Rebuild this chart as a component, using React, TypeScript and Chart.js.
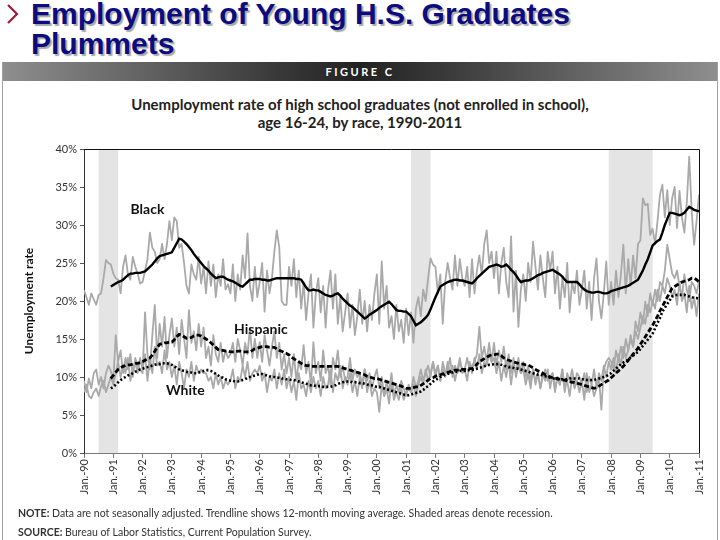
import React, { useEffect, useRef } from "react";
import { Chart, registerables } from "chart.js";

Chart.register(...registerables);

// x-axis tick labels, one per January (month index = 12 * i)
const xTickLabels = [
  "Jan.-90", "Jan.-91", "Jan.-92", "Jan.-93", "Jan.-94", "Jan.-95", "Jan.-96",
  "Jan.-97", "Jan.-98", "Jan.-99", "Jan.-00", "Jan.-01", "Jan.-02", "Jan.-03",
  "Jan.-04", "Jan.-05", "Jan.-06", "Jan.-07", "Jan.-08", "Jan.-09", "Jan.-10", "Jan.-11",
];

// Monthly unemployment rate (%), Jan-1990 .. Jan-2011 (one row per year)
const blackRaw = [
  21.4, 20.5, 19.5, 21.0, 20.2, 19.5, 20.8, 21.0, 23.0, 25.4, 25.0, 24.8,
  23.6, 23.0, 22.8, 21.0, 24.5, 26.0, 23.5, 22.8, 25.8, 24.5, 23.6, 22.3,
  22.5, 24.0, 25.5, 29.0, 27.0, 26.5, 25.0, 25.5, 27.5, 25.5, 27.5, 30.5,
  28.0, 31.0, 30.5, 27.0, 27.5, 25.0, 22.0, 21.0, 24.8, 23.5, 22.8, 25.8,
  22.3, 24.5, 21.0, 25.2, 22.0, 24.8, 20.5, 23.5, 22.0, 25.5, 21.5, 22.2,
  21.0, 24.8, 20.0, 23.5, 21.5, 26.0, 23.0, 28.9, 22.0, 20.0, 24.5, 20.5,
  22.5, 25.0, 18.6, 24.0, 21.0, 23.0, 26.5, 29.3, 27.1, 20.0, 19.5, 19.5,
  24.5, 22.0, 25.5, 20.5, 24.0, 19.0, 22.5, 17.5, 21.0, 23.5, 16.5, 21.0,
  23.0, 18.5, 22.0, 16.5, 21.5, 24.0, 19.0, 23.5, 17.0, 20.5, 16.0, 18.5,
  21.0, 16.5, 19.5, 15.5, 18.0, 21.5, 17.0, 20.0, 16.0, 19.5, 17.5, 21.0,
  23.5, 17.0, 25.2, 19.0, 22.0, 16.5, 18.0, 15.0, 19.5, 16.0, 17.5, 14.5,
  19.0, 15.5, 18.5, 14.5, 19.0, 20.5, 18.0, 21.5, 20.0, 23.0, 25.6, 24.8,
  24.5, 21.0, 23.5, 17.0, 22.5, 25.0, 23.0, 21.5, 26.0, 22.0, 25.5, 23.0,
  22.0, 24.5, 20.5, 25.5, 21.0, 24.0, 26.0, 23.5, 27.5, 29.3, 25.0, 26.5,
  23.0, 26.5, 21.0, 25.0, 27.0, 22.5, 20.5, 28.5, 18.6, 24.0, 16.6, 21.5,
  23.5, 20.0, 25.0, 22.5, 27.8, 24.5, 21.5, 26.0, 23.0, 20.5, 26.5, 24.0,
  26.5, 21.0, 24.5, 19.0, 23.0, 20.5, 25.0, 18.5, 22.5, 21.0, 24.0, 19.5,
  21.5, 24.0, 19.0, 22.5, 17.5, 23.0, 25.6, 20.0, 17.7, 21.0, 25.2, 19.5,
  22.5, 19.5, 24.0, 20.5, 23.5, 27.4, 21.0, 25.5, 22.0, 26.0, 23.0, 27.5,
  28.0, 33.5, 32.6, 32.8, 28.7, 29.5, 27.5, 30.5, 34.0, 35.3, 31.0, 34.6,
  30.0, 33.5, 35.0, 29.6, 34.5, 31.0, 29.0, 33.0, 39.0, 31.8, 27.4, 30.5,
  34.0,
];

const hispanicRaw = [
  9.5, 8.0, 9.8, 8.5, 10.5, 11.0, 9.0, 10.0, 8.5, 10.5, 11.5, 10.8,
  9.5, 15.5, 12.0, 13.5, 10.5, 12.5, 11.0, 13.0, 10.0, 12.5, 11.5, 11.0,
  10.5, 18.5, 13.0, 11.0, 15.5, 19.5, 12.5, 17.0, 14.0, 17.9, 12.5, 15.5,
  17.7, 14.0, 16.5, 13.0, 17.5, 15.0, 12.5, 18.8, 14.5, 16.0, 13.5, 17.0,
  14.0, 16.5, 12.5, 14.0, 11.5, 15.5, 13.0, 12.0, 14.5, 12.0, 13.5, 12.5,
  13.0, 14.5, 12.0, 15.0, 13.5, 11.5, 14.5, 13.0, 16.5, 12.5, 15.0, 12.5,
  14.6, 12.0, 15.5, 13.5, 11.5, 14.0, 16.0, 12.5, 14.5, 11.0, 13.0, 10.5,
  12.5, 10.0, 13.0, 9.5, 12.0, 11.0, 14.2, 10.5, 12.0, 9.0, 14.6, 10.5,
  12.0, 9.5, 13.5, 10.5, 11.5, 9.0, 12.5, 11.0, 13.5, 10.0, 11.5, 9.5,
  10.0, 12.5, 9.5, 11.0, 10.0, 10.5, 9.0, 11.0, 9.5, 10.5, 8.5, 10.0,
  11.0, 8.5, 10.0, 7.5, 9.5, 8.0, 10.5, 7.5, 9.0, 8.0, 9.5, 8.5,
  7.5, 9.0, 8.0, 10.0, 8.5, 9.5, 11.0, 9.5, 10.5, 11.5, 10.0, 12.0,
  10.5, 11.5, 9.5, 12.0, 10.5, 11.0, 12.5, 10.0, 11.5, 10.5, 12.0, 11.0,
  11.0, 12.5, 11.0, 11.5, 12.0, 13.0, 16.6, 12.5, 14.0, 12.0, 14.5, 12.0,
  14.5, 11.5, 13.5, 12.0, 14.0, 11.0, 13.0, 10.5, 12.5, 10.0, 11.5, 10.5,
  12.0, 10.0, 11.5, 9.5, 11.0, 9.0, 10.5, 8.5, 10.5, 9.5, 11.0, 8.5,
  10.5, 8.0, 10.0, 9.0, 11.0, 8.5, 9.5, 7.5, 10.0, 8.5, 9.5, 8.0,
  9.5, 7.0, 10.5, 8.0, 9.0, 7.5, 8.5, 10.0, 5.7, 11.0, 12.0, 12.5,
  12.0, 11.0, 13.5, 12.0, 14.0, 12.5, 15.0, 13.5, 15.5, 14.0, 17.3, 16.0,
  18.5, 17.0, 19.9, 18.0, 21.0, 19.5, 21.5, 20.0, 22.5, 22.0, 24.0, 27.4,
  25.5, 23.6, 23.0, 24.0, 22.0, 20.4, 23.5, 21.5, 20.0, 22.5, 22.0, 21.0,
  22.5,
];

const whiteRaw = [
  8.0, 9.0, 7.5, 7.2, 8.0, 8.5, 7.5, 8.8, 9.5, 8.0, 9.0, 10.0,
  9.0, 10.5, 12.0, 10.0, 11.5, 10.5, 12.5, 9.5, 11.0, 12.0, 10.5, 12.5,
  11.0, 13.0, 9.5, 12.5, 10.5, 14.0, 11.5, 12.0, 10.5, 13.5, 11.0, 12.0,
  10.0, 11.5, 9.0, 12.0, 10.5, 8.5, 11.0, 10.0, 12.0, 9.5, 11.5, 10.5,
  11.0, 10.5, 10.5, 9.5, 10.0, 8.5, 10.5, 9.0, 10.0, 8.5, 9.5, 9.0,
  9.5, 11.0, 8.5, 10.0, 9.5, 11.5, 10.0, 12.0, 9.5, 10.5, 11.0, 10.5,
  11.5, 9.5, 10.5, 8.0, 10.0, 9.5, 11.0, 8.5, 10.5, 9.0, 11.0, 8.5,
  10.0, 8.0, 9.5, 7.0, 10.5, 8.5, 9.0, 7.5, 9.5, 8.0, 10.0, 8.5,
  9.5, 7.5, 10.0, 8.5, 9.0, 11.0, 8.0, 10.5, 9.5, 11.5, 8.5, 10.0,
  9.0, 10.5, 8.0, 9.5, 7.5, 10.0, 8.5, 11.0, 8.0, 9.5, 7.5, 8.5,
  8.0, 5.4, 9.0, 7.5, 8.5, 6.5, 9.5, 7.0, 8.0, 7.0, 8.5, 7.0,
  8.0, 8.5, 8.0, 9.0, 7.5, 9.0, 10.0, 9.0, 11.0, 9.5, 10.5, 12.0,
  10.0, 11.5, 9.5, 11.0, 10.0, 12.0, 10.5, 11.5, 9.5, 11.0, 12.5, 10.5,
  11.0, 9.5, 12.0, 10.5, 12.5, 11.0, 13.0, 10.5, 12.0, 11.5, 13.0, 12.0,
  12.5, 10.5, 12.0, 9.5, 11.5, 10.0, 12.0, 9.0, 11.5, 10.5, 12.5, 10.5,
  11.0, 9.0, 10.5, 8.5, 11.0, 9.5, 10.5, 8.5, 10.0, 11.0, 9.5, 10.0,
  10.5, 8.5, 10.0, 9.0, 11.0, 8.0, 10.5, 9.5, 11.0, 9.0, 10.5, 10.0,
  9.0, 10.5, 8.0, 10.0, 9.0, 11.0, 8.5, 10.5, 9.5, 11.5, 10.0, 12.0,
  11.0, 12.5, 10.5, 13.0, 11.5, 14.0, 12.5, 13.5, 15.0, 14.0, 16.0, 15.0,
  16.5, 18.0, 17.0, 19.5, 18.5, 20.0, 19.0, 21.5, 20.0, 22.0, 21.0, 23.0,
  22.0, 20.5, 21.5, 19.5, 22.5, 20.0, 21.0, 18.5, 22.0, 19.0, 20.5, 18.0,
  21.0,
];

// 12-month moving-average trendlines, Dec-1990 .. Jan-2011
const MA_START = 11; // month index of Dec-1990
const blackTrend = [
  21.9,
  22.1, 22.3, 22.5, 22.6, 22.8, 23.1, 23.4, 23.6, 23.6, 23.7, 23.7, 23.7,
  23.8, 23.9, 24.2, 24.5, 24.8, 25.2, 25.6, 25.9, 26.0, 26.1, 26.2, 26.3,
  26.4, 27.0, 27.6, 28.2, 28.1, 27.8, 27.5, 27.1, 26.7, 26.2, 25.8, 25.4,
  25.0, 24.6, 24.3, 24.0, 23.6, 23.3, 23.0, 23.1, 23.2, 23.2, 23.0, 22.8,
  22.7, 22.6, 22.4, 22.2, 22.0, 21.9, 22.2, 22.5, 22.8, 22.8, 22.9, 22.9,
  22.9, 22.8, 22.8, 22.7, 22.7, 22.8, 22.9, 23.0, 23.0, 23.0, 23.0, 23.0,
  23.0, 23.0, 23.0, 22.9, 22.9, 22.8, 22.3, 21.8, 21.4, 21.4, 21.5, 21.4,
  21.4, 21.2, 21.0, 20.8, 20.7, 20.6, 20.7, 20.9, 21.0, 20.7, 20.3, 20.0,
  19.7, 19.4, 19.2, 18.9, 18.6, 18.3, 18.0, 17.7, 17.9, 18.2, 18.4, 18.6,
  18.8, 19.1, 19.3, 19.5, 19.7, 19.9, 19.6, 19.2, 18.8, 18.7, 18.7, 18.6,
  18.6, 18.3, 18.0, 17.4, 16.8, 17.0, 17.2, 17.5, 17.8, 18.2, 18.9, 19.7,
  20.5, 21.2, 21.9, 22.1, 22.3, 22.5, 22.6, 22.7, 22.8, 22.8, 22.7, 22.7,
  22.6, 22.5, 22.4, 22.3, 22.6, 23.0, 23.3, 23.6, 23.9, 24.2, 24.5, 24.6,
  24.7, 24.8, 24.7, 24.5, 24.6, 24.8, 24.5, 24.1, 23.8, 23.4, 22.9, 22.5,
  22.6, 22.7, 22.7, 22.8, 23.0, 23.2, 23.4, 23.5, 23.7, 23.8, 23.9, 24.0,
  24.1, 23.9, 23.7, 23.5, 23.2, 22.8, 22.5, 22.5, 22.5, 22.5, 22.5, 22.2,
  21.8, 21.5, 21.3, 21.2, 21.1, 21.1, 21.2, 21.2, 21.1, 21.0, 21.0, 21.1,
  21.3, 21.4, 21.5, 21.6, 21.7, 21.8, 21.9, 22.0, 22.2, 22.4, 22.6, 22.8,
  23.4, 24.0, 24.8, 25.5, 26.4, 27.3, 27.6, 27.9, 28.1, 29.0, 30.0, 30.8,
  31.6, 31.6, 31.5, 31.4, 31.3, 31.4, 31.6, 32.0, 32.4, 32.2, 32.0, 31.9,
  31.8,
];

const hispanicTrend = [
  9.8,
  10.2, 10.6, 11.0, 11.2, 11.4, 11.5, 11.6, 11.6, 11.7, 11.8, 11.8, 11.9,
  12.0, 12.2, 12.4, 12.5, 12.9, 13.4, 13.9, 14.3, 14.4, 14.5, 14.5, 14.6,
  14.6, 14.9, 15.3, 15.6, 15.5, 15.3, 15.1, 15.1, 15.2, 15.4, 15.5, 15.5,
  15.4, 15.2, 15.0, 14.8, 14.5, 14.2, 13.9, 13.6, 13.5, 13.5, 13.4, 13.4,
  13.3, 13.3, 13.3, 13.4, 13.4, 13.3, 13.3, 13.3, 13.3, 13.5, 13.7, 13.8,
  13.9, 14.0, 14.0, 14.0, 13.9, 13.9, 13.9, 13.7, 13.5, 13.4, 13.2, 13.1,
  12.9, 12.6, 12.4, 12.2, 12.0, 11.8, 11.6, 11.5, 11.5, 11.4, 11.4, 11.4,
  11.4, 11.4, 11.4, 11.4, 11.4, 11.4, 11.4, 11.4, 11.4, 11.3, 11.2, 11.1,
  11.0, 10.9, 10.8, 10.7, 10.6, 10.5, 10.4, 10.3, 10.1, 10.0, 9.9, 9.8,
  9.8, 9.7, 9.6, 9.5, 9.4, 9.3, 9.2, 9.1, 9.0, 8.9, 8.8, 8.6,
  8.5, 8.5, 8.5, 8.6, 8.7, 8.7, 8.9, 9.1, 9.3, 9.6, 9.8, 9.9,
  10.1, 10.2, 10.3, 10.4, 10.5, 10.6, 10.7, 10.8, 10.9, 10.9, 10.9, 11.0,
  11.0, 11.0, 11.1, 11.1, 11.3, 11.7, 12.0, 12.2, 12.4, 12.6, 12.8, 12.9,
  12.9, 13.0, 13.0, 12.8, 12.5, 12.3, 12.2, 12.1, 12.0, 11.9, 11.8, 11.7,
  11.7, 11.6, 11.6, 11.4, 11.2, 11.0, 10.8, 10.7, 10.5, 10.3, 10.2, 10.0,
  9.9, 9.8, 9.8, 9.7, 9.6, 9.6, 9.5, 9.4, 9.3, 9.3, 9.2, 9.1,
  9.0, 8.9, 8.8, 8.7, 8.6, 8.5, 8.6, 8.8, 9.0, 9.2, 9.4, 9.6,
  9.9, 10.2, 10.5, 10.8, 11.1, 11.4, 11.8, 12.2, 12.6, 13.0, 13.4, 13.8,
  14.3, 14.8, 15.3, 15.8, 16.3, 16.8, 17.4, 18.0, 18.7, 19.3, 19.9, 20.5,
  21.1, 21.7, 21.9, 22.1, 22.3, 22.5, 22.6, 22.7, 22.8, 23.0, 23.0, 22.8,
  22.5,
];

const whiteTrend = [
  8.5,
  8.7, 9.0, 9.3, 9.6, 9.8, 10.0, 10.2, 10.3, 10.5, 10.7, 10.8, 11.0,
  11.1, 11.2, 11.3, 11.4, 11.5, 11.6, 11.7, 11.7, 11.8, 11.8, 11.8, 11.7,
  11.6, 11.4, 11.2, 11.0, 10.9, 10.8, 10.7, 10.6, 10.6, 10.5, 10.5, 10.6,
  10.7, 10.8, 10.9, 10.9, 10.8, 10.6, 10.4, 10.2, 10.0, 9.9, 9.7, 9.6,
  9.5, 9.5, 9.4, 9.4, 9.5, 9.6, 9.7, 9.9, 10.0, 10.1, 10.2, 10.3,
  10.4, 10.4, 10.3, 10.2, 10.1, 10.0, 10.0, 9.9, 9.9, 9.8, 9.8, 9.7,
  9.7, 9.6, 9.6, 9.5, 9.4, 9.3, 9.2, 9.1, 9.0, 8.9, 8.9, 8.8,
  8.8, 8.8, 8.7, 8.7, 8.7, 8.7, 8.8, 8.9, 9.1, 9.2, 9.3, 9.4,
  9.4, 9.4, 9.3, 9.3, 9.3, 9.2, 9.2, 9.1, 9.0, 8.9, 8.9, 8.8,
  8.7, 8.7, 8.6, 8.5, 8.4, 8.3, 8.2, 8.1, 8.0, 7.9, 7.8, 7.7,
  7.6, 7.6, 7.7, 7.8, 7.9, 8.0, 8.1, 8.3, 8.6, 8.8, 9.1, 9.4,
  9.6, 9.8, 10.0, 10.1, 10.3, 10.4, 10.5, 10.6, 10.7, 10.7, 10.8, 10.8,
  10.8, 10.9, 10.9, 10.9, 11.0, 11.1, 11.2, 11.3, 11.4, 11.5, 11.6, 11.6,
  11.7, 11.7, 11.7, 11.6, 11.5, 11.4, 11.3, 11.3, 11.2, 11.1, 11.1, 11.0,
  10.9, 10.8, 10.7, 10.6, 10.5, 10.4, 10.3, 10.3, 10.2, 10.1, 10.0, 9.9,
  9.8, 9.8, 9.7, 9.7, 9.7, 9.7, 9.7, 9.8, 9.8, 9.8, 9.8, 9.8,
  9.7, 9.7, 9.6, 9.6, 9.6, 9.6, 9.7, 9.8, 9.9, 10.0, 10.1, 10.3,
  10.5, 10.8, 11.1, 11.4, 11.7, 11.9, 12.1, 12.3, 12.6, 12.8, 13.1, 13.3,
  13.7, 14.1, 14.5, 14.9, 15.3, 15.7, 16.4, 17.1, 17.8, 18.6, 19.1, 19.6,
  20.1, 20.6, 20.7, 20.8, 20.8, 20.8, 20.8, 20.7, 20.6, 20.5, 20.4, 20.4,
  20.3,
];

// Recessions as [start month index, end month index]
const recessions = [
  [6, 14],
  [134, 142],
  [215, 233],
];

// Series name labels placed at [month index, value]
const seriesLabelText = ["Black", "Hispanic", "White"];
const seriesLabelMonth = [26, 72.5, 41.5];
const seriesLabelValue = [32.1, 16.3, 8.2];

const toPoints = (arr: number[], start: number) => arr.map((v, i) => ({ x: i + start, y: v }));

const recessionPlugin = {
  id: "recessions",
  beforeDraw(chart: any) {
    const { ctx, chartArea, scales } = chart;
    ctx.save();
    ctx.fillStyle = "#e4e4e4";
    for (const [a, b] of recessions) {
      const x1 = scales.x.getPixelForValue(a);
      const x2 = scales.x.getPixelForValue(b);
      ctx.fillRect(x1, chartArea.top, x2 - x1, chartArea.bottom - chartArea.top);
    }
    ctx.restore();
  },
};

const framePlugin = {
  id: "frame",
  afterDraw(chart: any) {
    const { ctx, chartArea } = chart;
    ctx.save();
    ctx.strokeStyle = "#111";
    ctx.lineWidth = 1;
    ctx.beginPath();
    ctx.moveTo(chartArea.left, Math.round(chartArea.top) + 0.5);
    ctx.lineTo(Math.round(chartArea.right) + 0.5, Math.round(chartArea.top) + 0.5);
    ctx.lineTo(Math.round(chartArea.right) + 0.5, chartArea.bottom);
    ctx.stroke();
    ctx.restore();
  },
};

const labelPlugin = {
  id: "seriesLabels",
  afterDatasetsDraw(chart: any) {
    const { ctx, scales } = chart;
    ctx.save();
    ctx.font = "bold 14px Lato, 'Open Sans', sans-serif";
    ctx.fillStyle = "#111";
    ctx.textAlign = "center";
    ctx.textBaseline = "middle";
    seriesLabelText.forEach((t, i) => {
      ctx.fillText(t, scales.x.getPixelForValue(seriesLabelMonth[i]), scales.y.getPixelForValue(seriesLabelValue[i]));
    });
    ctx.restore();
  },
};

export default function App() {
  const canvasRef = useRef<HTMLCanvasElement | null>(null);

  useEffect(() => {
    const canvas = canvasRef.current;
    if (!canvas) return;
    Chart.defaults.font.family = "Lato, 'Open Sans', sans-serif";
    const raw = { borderColor: "#a9a9a9", borderWidth: 1.8, pointRadius: 0, tension: 0, fill: false, order: 2, borderJoinStyle: "round" as const };
    const chart = new Chart(canvas, {
      type: "line",
      data: {
        datasets: [
          { label: "Black (monthly)", data: toPoints(blackRaw, 0), ...raw },
          { label: "Hispanic (monthly)", data: toPoints(hispanicRaw, 0), ...raw },
          { label: "White (monthly)", data: toPoints(whiteRaw, 0), ...raw },
          { label: "Black trend", data: toPoints(blackTrend, MA_START), borderColor: "#000", borderWidth: 2.4, pointRadius: 0, tension: 0, order: 1 },
          { label: "Hispanic trend", data: toPoints(hispanicTrend, MA_START), borderColor: "#000", borderWidth: 2.8, borderDash: [5, 2.5], pointRadius: 0, tension: 0, order: 1 },
          { label: "White trend", data: toPoints(whiteTrend, MA_START), borderColor: "#000", borderWidth: 2.6, borderDash: [2, 2.2], pointRadius: 0, tension: 0, order: 1 },
        ],
      },
      options: {
        responsive: false,
        animation: false,
        events: [],
        layout: { padding: { left: 20, top: 149, right: 21, bottom: 40 } },
        plugins: { legend: { display: false }, tooltip: { enabled: false }, title: { display: false } },
        scales: {
          x: {
            type: "linear",
            min: 0,
            max: 252,
            afterFit: (s: any) => { s.height = 47; },
            afterBuildTicks: (s: any) => { s.ticks = xTickLabels.map((_, i) => ({ value: i * 12 })); },
            ticks: {
              autoSkip: false,
              maxRotation: 90,
              minRotation: 90,
              padding: 1,
              color: "#333",
              font: { size: 11 },
              callback: (v: any) => xTickLabels[Math.round(Number(v) / 12)] ?? "",
            },
            grid: { drawOnChartArea: false, drawTicks: true, tickLength: 5, color: "#7a7a7a" },
            border: { color: "#7a7a7a", width: 1 },
          },
          y: {
            min: 0,
            max: 40,
            afterFit: (s: any) => { s.width = 64; },
            ticks: { stepSize: 5, padding: 3, color: "#333", font: { size: 11 }, callback: (v: any) => `${v}%` },
            grid: { drawOnChartArea: false, drawTicks: true, tickLength: 4, color: "#555" },
            border: { color: "#333", width: 1 },
            title: { display: true, text: "Unemployment rate", color: "#111", font: { size: 12, weight: "bold" }, padding: { top: 2, bottom: 0 } },
          },
        },
      },
      plugins: [recessionPlugin, framePlugin, labelPlugin],
    } as any);
    return () => chart.destroy();
  }, []);

  return (
    <div style={{ position: "fixed", left: 0, top: 0, width: 720, height: 540, overflow: "hidden", background: "#fff" }}>
      <svg style={{ position: "absolute", left: 5, top: 3 }} width="16" height="22">
        <polyline points="3,2 12,11 3,20" fill="none" stroke="#9b1d36" strokeWidth="2.2" />
      </svg>
      <div
        style={{
          position: "absolute",
          left: 31,
          top: -1,
          font: "bold 30px 'Liberation Sans', Arial, sans-serif",
          lineHeight: "30px",
          color: "#0c0c80",
          textShadow: "2px 2px 1px #a8a8a8",
          whiteSpace: "nowrap",
        }}
      >
        Employment of Young H.S. Graduates
        <br />
        Plummets
      </div>
      <div style={{ position: "absolute", left: 2, top: 62, width: 714, height: 490, borderLeft: "1px solid #a0a0a0", borderRight: "1px solid #a0a0a0" }} />
      <div
        style={{
          position: "absolute",
          left: 3,
          top: 62,
          width: 714,
          height: 19,
          background: "linear-gradient(to right, #8e8e8e 0%, #3a3a3a 38%, #222 50%, #3a3a3a 62%, #8e8e8e 100%)",
          color: "#fff",
          font: "bold 11px Lato, 'Open Sans', sans-serif",
          letterSpacing: "2.5px",
          lineHeight: "19px",
          textAlign: "center",
        }}
      >
        FIGURE C
      </div>
      <div
        style={{
          position: "absolute",
          left: 0,
          top: 95,
          width: 720,
          textAlign: "center",
          font: "bold 15px Lato, 'Open Sans', sans-serif",
          lineHeight: "18px",
          color: "#222",
        }}
      >
        Unemployment rate of high school graduates (not enrolled in school),
        <br />
        age 16-24, by race, 1990-2011
      </div>
      <canvas ref={canvasRef} width={720} height={540} style={{ position: "absolute", left: 0, top: 0, width: 720, height: 540 }} />
      <div
        style={{
          position: "absolute",
          left: 18,
          top: 504,
          font: "10.5px Lato, 'Open Sans', sans-serif",
          lineHeight: "19px",
          color: "#333",
          whiteSpace: "nowrap",
        }}
      >
        <b>NOTE:</b> Data are not seasonally adjusted. Trendline shows 12-month moving average. Shaded areas denote recession.
        <br />
        <b>SOURCE:</b> Bureau of Labor Statistics, Current Population Survey.
      </div>
    </div>
  );
}
